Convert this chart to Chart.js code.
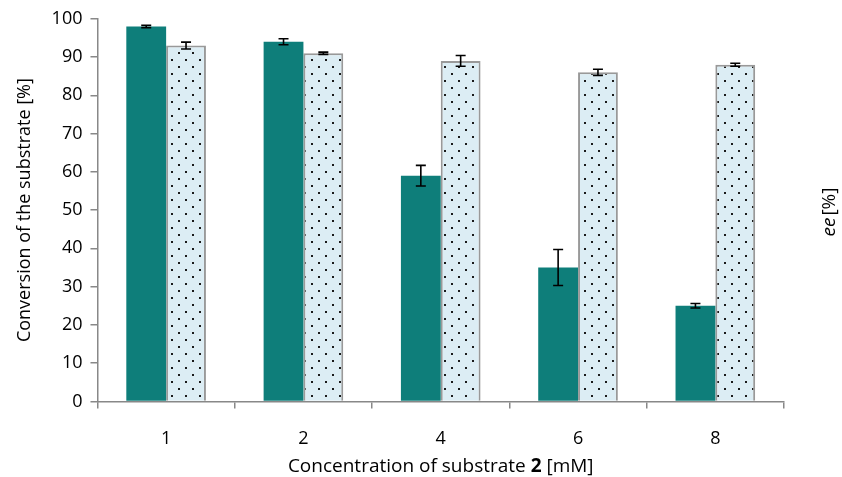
<!DOCTYPE html>
<html>
<head>
<meta charset="utf-8">
<script src="https://cdn.jsdelivr.net/npm/chart.js@4"></script>
<style>
  body { margin: 0; background: #fff; }
  #wrap { width: 842px; height: 477px; }
</style>
</head>
<body>
<div id="wrap"><canvas id="myChart"></canvas></div>
<script>
// values
var concentrations = ["1", "2", "4", "6", "8"];
var conversion = [98, 94, 59, 35, 25];
var conversionErr = [0.3, 0.8, 2.7, 4.7, 0.6];
var eeValues = [93, 91, 89, 86, 88];
var eeErr = [0.9, 0.3, 1.4, 0.8, 0.4];
var yTicks = [0, 10, 20, 30, 40, 50, 60, 70, 80, 90, 100];

// dotted fill for the ee bars
function dotPattern() {
  var c = document.createElement("canvas");
  c.width = 14; c.height = 14;
  var g = c.getContext("2d");
  g.fillStyle = "#dcedf4";
  g.fillRect(0, 0, 14, 14);
  g.fillStyle = "#1a1a1a";
  g.fillRect(3, 3, 2, 2);
  g.fillRect(10, 10, 2, 2);
  return g.createPattern(c, "repeat");
}

var errorBars = {
  id: "errorBars",
  afterDatasetsDraw: function(chart) {
    var ctx = chart.ctx;
    var y = chart.scales.y;
    ctx.save();
    ctx.strokeStyle = "#000";
    ctx.lineWidth = 1.6;
    chart.data.datasets.forEach(function(ds, i) {
      var meta = chart.getDatasetMeta(i);
      meta.data.forEach(function(bar, j) {
        var v = ds.data[j], e = ds.errors[j];
        var top = y.getPixelForValue(v + e);
        var bot = y.getPixelForValue(v - e);
        var x = bar.x;
        ctx.beginPath();
        ctx.moveTo(x, top); ctx.lineTo(x, bot);
        ctx.moveTo(x - 5, top); ctx.lineTo(x + 5, top);
        ctx.moveTo(x - 5, bot); ctx.lineTo(x + 5, bot);
        ctx.stroke();
      });
    });
    ctx.restore();
  }
};

var titles = {
  id: "titles",
  afterDraw: function(chart) {
    var ctx = chart.ctx;
    var area = chart.chartArea;
    ctx.save();
    ctx.fillStyle = "#000";
    ctx.textBaseline = "alphabetic";
    // x title with bold "2"
    var f = "19px 'Open Sans'";
    var fb = "bold 19px 'Open Sans'";
    var p1 = "Concentration of substrate ", p2 = "2", p3 = " [mM]";
    ctx.font = f; var w1 = ctx.measureText(p1).width, w3 = ctx.measureText(p3).width;
    ctx.font = fb; var w2 = ctx.measureText(p2).width;
    var x0 = (area.left + area.right) / 2 - (w1 + w2 + w3) / 2;
    var yy = 472;
    ctx.font = f; ctx.fillText(p1, x0, yy);
    ctx.font = fb; ctx.fillText(p2, x0 + w1, yy);
    ctx.font = f; ctx.fillText(p3, x0 + w1 + w2, yy);
    // right title "ee [%]"
    ctx.translate(835, 212);
    ctx.rotate(-Math.PI / 2);
    var fi = "italic 19px 'Open Sans'";
    ctx.font = fi;
    var we = ctx.measureText("ee").width;
    ctx.font = f;
    var wp = ctx.measureText("[%]").width;
    var sx = -(we + 2 + wp) / 2;
    ctx.font = fi;
    ctx.fillText("ee", sx, 0);
    ctx.font = f;
    ctx.fillText("[%]", sx + we + 2, 0);
    ctx.restore();
  }
};

var canvas = document.getElementById("myChart");
var myChart = new Chart(canvas, {
  type: "bar",
  data: {
    labels: concentrations,
    datasets: [
      {
        label: "Conversion",
        data: conversion,
        errors: conversionErr,
        backgroundColor: "#0e7e7a",
        borderWidth: 0
      },
      {
        label: "ee",
        data: eeValues,
        errors: eeErr,
        backgroundColor: dotPattern(),
        borderColor: "#999999",
        borderWidth: 2
      }
    ]
  },
  options: {
    responsive: true,
    maintainAspectRatio: false,
    animation: false,
    layout: { padding: { left: 10, right: 58, top: 12, bottom: 7 } },
    datasets: { bar: { categoryPercentage: 0.58, barPercentage: 1.0 } },
    plugins: {
      legend: { display: false },
      tooltip: { enabled: false }
    },
    scales: {
      x: {
        grid: { display: true, drawOnChartArea: false, offset: true, color: "#888", tickLength: 7, lineWidth: 1.5 },
        border: { color: "#888", width: 1.5 },
        ticks: { color: "#000", font: { family: "'Open Sans'", size: 18 }, padding: 20 }
      },
      y: {
        min: 0,
        max: 100,
        afterBuildTicks: function(axis) {
          axis.ticks = yTicks.map(function(v) { return { value: v }; });
        },
        grid: { display: true, drawOnChartArea: false, color: "#888", tickLength: 7, lineWidth: 1.5 },
        border: { color: "#888", width: 1.5 },
        ticks: { color: "#000", font: { family: "'Open Sans'", size: 18 }, padding: 8 },
        title: {
          display: true,
          text: "Conversion of the substrate [%]",
          color: "#000",
          font: { family: "'Open Sans'", size: 18 },
          padding: { bottom: 8 }
        }
      }
    }
  },
  plugins: [errorBars, titles]
});
</script>
</body>
</html>
